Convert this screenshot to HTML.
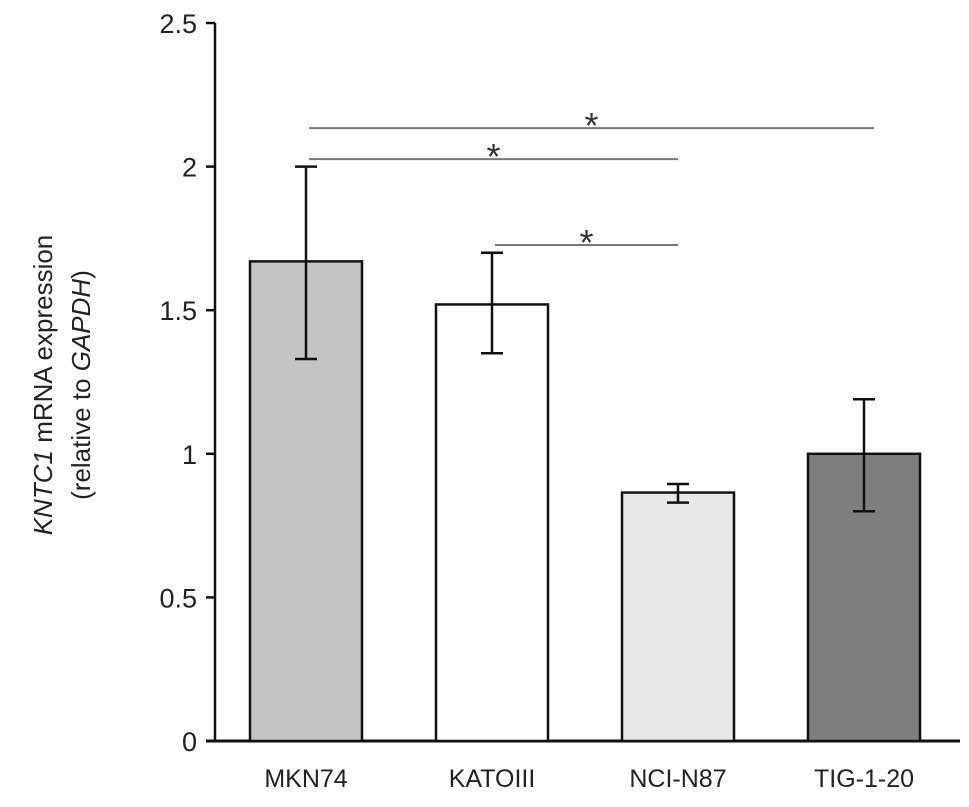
<!DOCTYPE html>
<html><head><meta charset="utf-8"><style>
body{margin:0;background:#fff}
svg{display:block;font-family:"Liberation Sans",Arial,sans-serif}
</style></head><body>
<svg id="chart" width="969" height="807" viewBox="0 0 969 807">
<g id="axes"></g><g id="bars"></g><g id="sig"></g>
<text transform="translate(52,385) rotate(-90)" text-anchor="middle" font-size="26" fill="#222"><tspan font-style="italic">KNTC1</tspan> mRNA expression</text>
<text transform="translate(90,385) rotate(-90)" text-anchor="middle" font-size="26" fill="#222">(relative to <tspan font-style="italic">GAPDH</tspan>)</text>
</svg>
<script>
const categories=["MKN74","KATOIII","NCI-N87","TIG-1-20"];
const values=[1.67,1.52,0.865,1.0];
const errLow=[1.33,1.35,0.83,0.80];
const errHigh=[2.0,1.70,0.895,1.19];
const fills=["#c4c4c4","#ffffff","#e8e8e8","#7f7f7f"];
const ticks=[0,0.5,1,1.5,2,2.5];
const tickLabels=["0","0.5","1","1.5","2","2.5"];
const sigFrom=[0,0,1];
const sigTo=[3,2,2];
const sigLevel=[2.134,2.026,1.727];
const NS="http://www.w3.org/2000/svg";
const y0=741,yTop=23,vMax=2.5;
const y=v=>y0-(y0-yTop)*v/vMax;
const barW=112,firstX=250,step=186;
const bx=i=>firstX+i*step;
const cx=i=>bx(i)+barW/2;
function mk(tag,attrs,parent){const e=document.createElementNS(NS,tag);for(const k in attrs)e.setAttribute(k,attrs[k]);parent.appendChild(e);return e;}
const axes=document.getElementById('axes'),bars=document.getElementById('bars'),sig=document.getElementById('sig');
let a=mk('line',{x1:215,y1:y(vMax),x2:215,y2:y0,stroke:'#111','stroke-width':2.5},axes);

a=mk('line',{x1:206,y1:y0,x2:960,y2:y0,stroke:'#111','stroke-width':3},axes);

ticks.forEach((t,i)=>{
 const l=mk('line',{x1:206,y1:y(t),x2:215,y2:y(t),stroke:'#111','stroke-width':2.5},axes);
 
 const tx=mk('text',{x:197,y:y(t)+10,'text-anchor':'end','font-size':27,fill:'#222'},axes);
 tx.textContent=tickLabels[i];
 
});
categories.forEach((c,i)=>{
 const r=mk('rect',{x:bx(i),y:y(values[i]),width:barW,height:y0-y(values[i]),fill:fills[i],stroke:'#111','stroke-width':2.5},bars);
 
 const e=mk('path',{d:`M${cx(i)} ${y(errLow[i])}V${y(errHigh[i])}M${cx(i)-11} ${y(errHigh[i])}h22M${cx(i)-11} ${y(errLow[i])}h22`,stroke:'#111','stroke-width':2.5,fill:'none'},bars);
 
 const t=mk('text',{x:cx(i),y:787,'text-anchor':'middle','font-size':25,fill:'#222'},bars);
 t.textContent=c;
 
});
sigFrom.forEach((f,k)=>{
 const x1=cx(f)+3,x2=cx(sigTo[k])+(k===0?10:0),yy=y(sigLevel[k]);
 const l=mk('line',{x1:x1,y1:yy,x2:x2,y2:yy,stroke:'#777','stroke-width':2},sig);
 
 const s=mk('text',{x:(x1+x2)/2,y:yy+10,'text-anchor':'middle','font-size':36,fill:'#333'},sig);
 s.textContent='*';
 
});
</script>
</body></html>
